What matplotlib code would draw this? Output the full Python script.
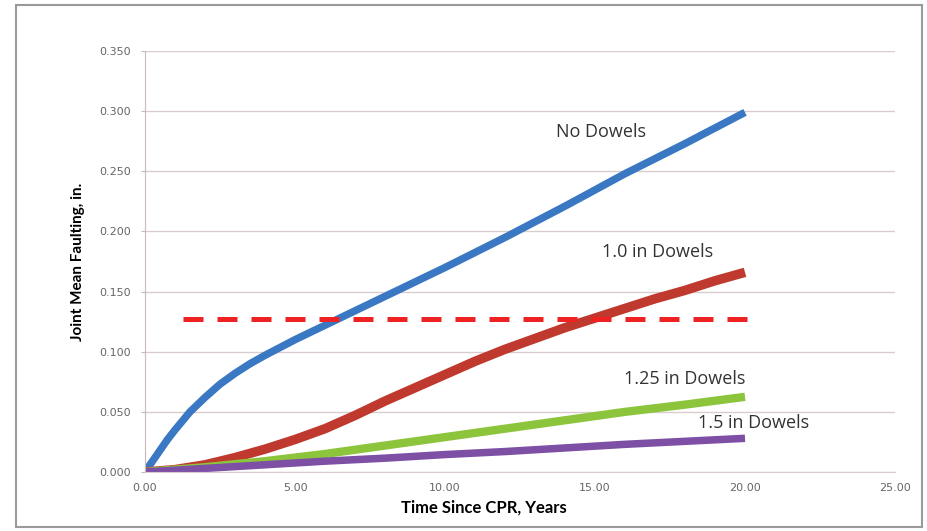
import matplotlib.pyplot as plt
from matplotlib.patches import Rectangle

# Data (years, inches)
years_blue = [0, 0.25, 0.5, 0.75, 1, 1.5, 2, 2.5, 3, 3.5, 4, 5, 6, 7, 8, 10, 12, 14, 16, 18, 20]
no_dowels = [0, 0.009, 0.018, 0.027, 0.035, 0.050, 0.062, 0.073, 0.082, 0.090, 0.097,
             0.110, 0.122, 0.134, 0.146, 0.170, 0.195, 0.221, 0.248, 0.273, 0.299]

years = [0, 1, 2, 3, 4, 5, 6, 7, 8, 9, 10, 11, 12, 13, 14, 15, 16, 17, 18, 19, 20]
dowel_10 = [0, 0.002, 0.006, 0.012, 0.019, 0.027, 0.036, 0.047, 0.059, 0.070, 0.081,
            0.092, 0.102, 0.111, 0.120, 0.128, 0.136, 0.144, 0.151, 0.159, 0.166]

years_lin = [0, 2, 4, 6, 8, 10, 12, 14, 16, 18, 20]
dowel_125 = [0, 0.004, 0.009, 0.015, 0.022, 0.029, 0.036, 0.043, 0.050, 0.056, 0.0625]
dowel_15 = [0, 0.003, 0.006, 0.009, 0.0115, 0.0145, 0.017, 0.020, 0.023, 0.0255, 0.028]

limit_x = [1.25, 20.1]
limit_y = 0.127

labels = ['No Dowels', '1.0 in Dowels', '1.25 in Dowels', '1.5 in Dowels']
label_x = [15.2, 17.07, 18.0, 20.27]
label_y = [0.2827, 0.1829, 0.0773, 0.0407]

fig = plt.figure(figsize=(9.27, 5.31), dpi=100)
ax = fig.add_axes([145 / 927, 1 - 472 / 531, 750 / 927, 421 / 531])

# outer chart frame
fig.patches.append(Rectangle((16 / 927, 1 - 527 / 531), (922 - 16) / 927, (527 - 5) / 531,
                             transform=fig.transFigure, fill=False,
                             edgecolor='#9a9a9a', linewidth=1.5))

ax.plot(years_blue, no_dowels, color='#3a78c4', linewidth=5.4, solid_capstyle='butt')
ax.plot(years, dowel_10, color='#c0392f', linewidth=6.8, solid_capstyle='butt')
ax.plot(years_lin, dowel_125, color='#8cc43c', linewidth=6.0, solid_capstyle='butt')
ax.plot(years_lin, dowel_15, color='#7d4fa5', linewidth=5.4, solid_capstyle='butt')
ax.plot(limit_x, [limit_y, limit_y], color='#ee2222', linewidth=3.6,
        linestyle=(0, (4, 2.8)))

for txt, x, y in zip(labels, label_x, label_y):
    ax.text(x, y, txt, ha='center', va='center', fontsize=13,
            family='Open Sans', color='#333333')

ax.set_xlim(0, 25)
ax.set_ylim(0, 0.35)
ax.set_xticks([0, 5, 10, 15, 20, 25])
ax.set_yticks([0, 0.05, 0.1, 0.15, 0.2, 0.25, 0.3, 0.35])
ax.set_xticklabels([f'{v:.2f}' for v in ax.get_xticks()])
ax.set_yticklabels([f'{v:.3f}' for v in ax.get_yticks()])

ax.grid(axis='y', color='#d8cccc', linewidth=1)
ax.set_axisbelow(True)
for s in ['top', 'right']:
    ax.spines[s].set_visible(False)
ax.spines['left'].set_color('#c8b8b8')
ax.spines['bottom'].set_color('#d8cccc')
ax.tick_params(axis='y', length=3, color='#c8b8b8', pad=7, labelsize=8, labelcolor='#666666')
ax.tick_params(axis='x', length=0, pad=8, labelsize=8, labelcolor='#666666')

ax.set_xlabel('Time Since CPR, Years', family='Lato', fontweight='bold', fontsize=12)
ax.xaxis.set_label_coords((484 - 145) / 750, -0.0855)
ax.xaxis.label.set_va('center')
ax.set_ylabel('Joint Mean Faulting, in.', family='Lato', fontweight='bold', fontsize=11)
ax.yaxis.set_label_coords((78 - 145) / 750, 0.5)
ax.yaxis.label.set_va('center')

plt.savefig('out.png', dpi=100)
